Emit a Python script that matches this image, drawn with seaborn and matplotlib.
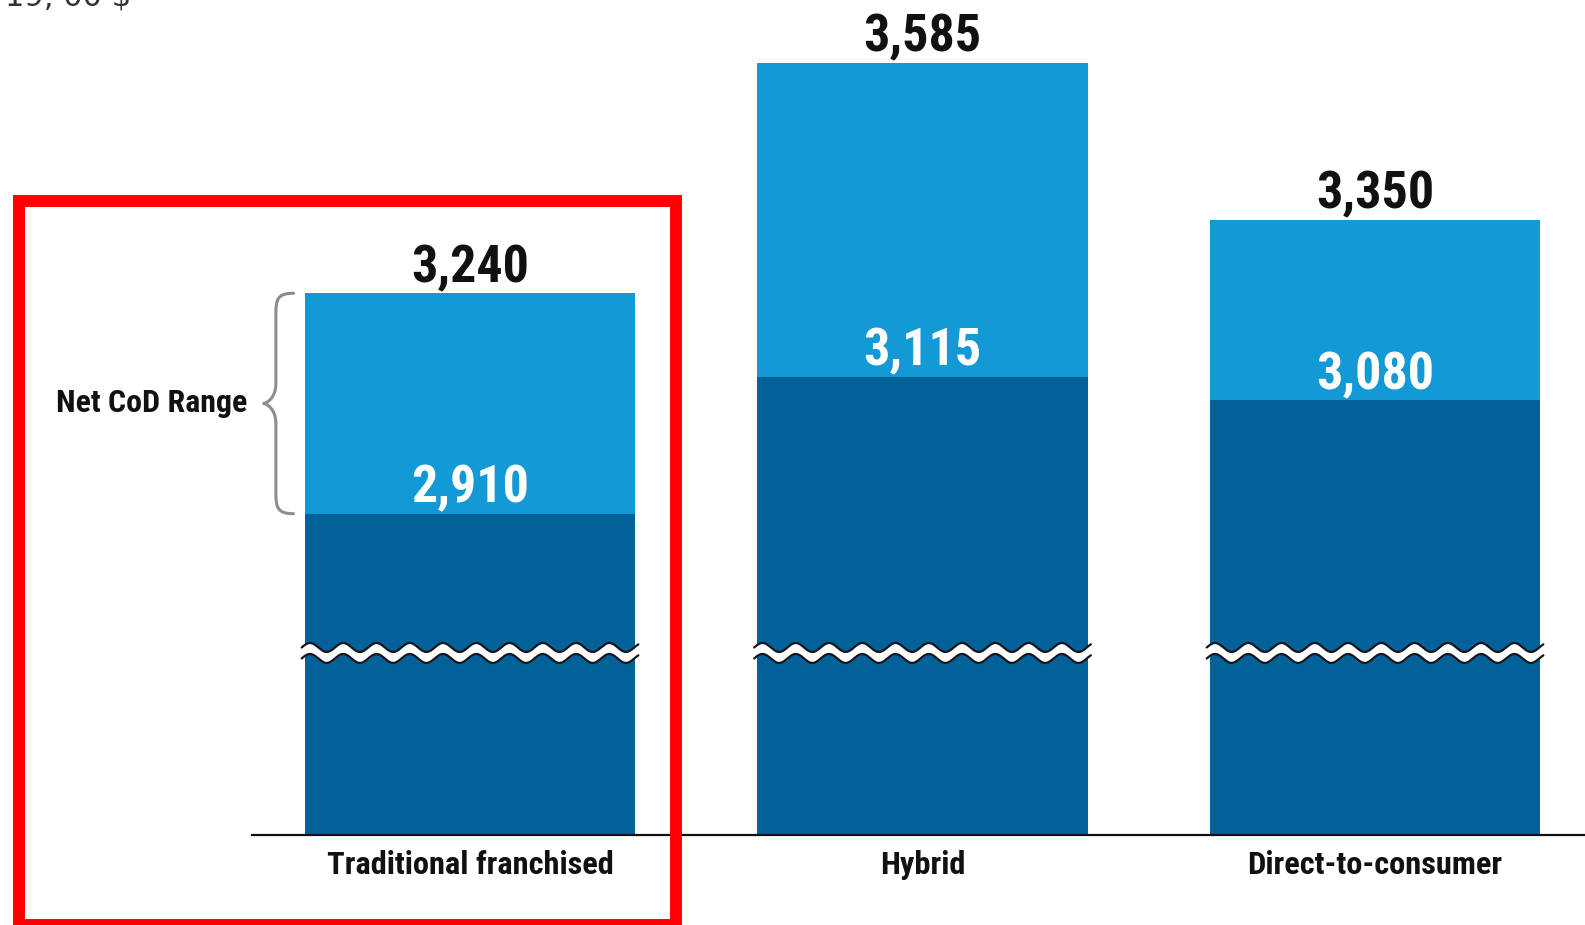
import numpy as np
import pandas as pd
import matplotlib
matplotlib.use("Agg")
import matplotlib.pyplot as plt
import seaborn as sns
from matplotlib import font_manager as fm
from matplotlib.path import Path
from matplotlib.patches import PathPatch, Rectangle
from matplotlib.transforms import blended_transform_factory
from matplotlib.textpath import TextPath
from matplotlib.font_manager import FontProperties

# ---- data -------------------------------------------------------------
categories = ["Traditional franchised", "Hybrid", "Direct-to-consumer"]
net_cod_high = [3240, 3585, 3350]   # top of the Net CoD range
net_cod_low = [2910, 3115, 3080]    # bottom of the Net CoD range
range_label = "Net CoD Range"
corner_note = "19, 00 $"

LIGHT = "#1399D6"
DARK = "#03619A"

# ---- fonts: prefer a narrow bold face ---------------------------------
sns.set_theme(style="white")
plt.rcParams["font.family"] = ["DejaVu Sans"]

entries = fm.fontManager.ttflist
names = {f.name for f in entries}
cond = None
for nm in ["Noto Sans ExtraCondensed", "Noto Sans Condensed", "Roboto Condensed",
           "Open Sans Condensed", "Liberation Sans Narrow", "Noto Sans SemiCondensed"]:
    if nm in names:
        cond = dict(family=[nm, "DejaVu Sans"], weight="bold")
        break
if cond is None:
    narrow = [f for f in entries
              if f.stretch in ("extra-condensed", "condensed", "semi-condensed")
              and f.name in ("Noto Sans", "Open Sans", "Roboto", "Inter", "Lato")]
    if narrow:
        cond = dict(family=[narrow[0].name, "DejaVu Sans"], weight="bold",
                    stretch=narrow[0].stretch)
    else:
        cond = dict(family=["DejaVu Sans"], weight="bold", stretch="condensed")


def fit_size(text, width_px, dpi=100):
    """Font size (pt) at which `text` spans about width_px pixels."""
    fp = FontProperties(**cond)
    fp.set_size(100)
    ext = TextPath((0, 0), text, prop=fp).get_extents()
    w_px_at_100 = ext.width * dpi / 72.0
    return 100 * width_px / w_px_at_100


num_size = fit_size("3,240", 114)
cat_size = fit_size("Traditional franchised", 284)
rng_size = fit_size(range_label, 188)

# ---- figure / axes ----------------------------------------------------
W, H = 1585, 925
fig = plt.figure(figsize=(W / 100, H / 100), dpi=100)
fig.patch.set_facecolor("white")
ax = fig.add_axes([252 / W, (H - 835) / H, 1 - 252 / W, 835 / H])

df = pd.DataFrame({"category": categories, "high": net_cod_high, "low": net_cod_low})

sns.barplot(data=df, x="category", y="high", color=LIGHT, saturation=1,
            width=0.73, linewidth=0, ax=ax, order=categories)
sns.barplot(data=df, x="category", y="low", color=DARK, saturation=1,
            width=0.73, linewidth=0, ax=ax, order=categories)

ax.set_xlim(-0.4818, 2.464)
ax.set_ylim(2429, 3679)
ax.set_xlabel("")
ax.set_ylabel("")
ax.set_yticks([])
for s in ["left", "right", "top"]:
    ax.spines[s].set_visible(False)
ax.spines["bottom"].set_color("#111111")
ax.spines["bottom"].set_linewidth(1.6)
ax.tick_params(axis="x", length=0, pad=11)
ax.set_xticks(range(len(categories)))
ax.set_xticklabels(categories, fontsize=cat_size, color="#111111", **cond)

# ---- value labels -----------------------------------------------------
for i, (hi, lo) in enumerate(zip(net_cod_high, net_cod_low)):
    ax.annotate(f"{hi:,}", (i, hi), xytext=(0, 8), textcoords="offset points",
                ha="center", va="baseline", fontsize=num_size, color="#111111", **cond)
    ax.annotate(f"{lo:,}", (i, lo), xytext=(0, 8), textcoords="offset points",
                ha="center", va="baseline", fontsize=num_size, color="white", **cond)

# ---- axis-break waves across each bar ---------------------------------
trans = blended_transform_factory(ax.transData, ax.transAxes)
px_y = 1 / 835.0
yc = 0.218
amp = 4.5 * px_y
gap = 5.5 * px_y
for i in range(len(categories)):
    half = 0.73 / 2 + 0.007
    xs = np.linspace(i - half, i + half, 400)
    wave = amp * np.sin(2 * np.pi * (xs - (i - half)) / 0.0735)
    top = yc + gap + wave
    bot = yc - gap + wave
    ax.fill_between(xs, bot, top, transform=trans, color="white", lw=0, zorder=5)
    ax.plot(xs, top, transform=trans, color="#14161c", lw=1.6, zorder=6)
    ax.plot(xs, bot, transform=trans, color="#14161c", lw=1.6, zorder=6)

# ---- brace marking the Net CoD range on the first bar -----------------
hi0, lo0 = net_cod_high[0], net_cod_low[0]
edge = -0.365
x_end, x_shaft, x_tip = edge - 0.025, edge - 0.064, edge - 0.093
ym = (hi0 + lo0) / 2
r = 30
verts = [
    (x_end, hi0),
    (x_shaft + 0.004, hi0), (x_shaft, hi0 - r * 0.3), (x_shaft, hi0 - r),
    (x_shaft, ym + r),
    (x_shaft, ym + r * 0.3), (x_tip + 0.01, ym), (x_tip, ym),
    (x_tip + 0.01, ym), (x_shaft, ym - r * 0.3), (x_shaft, ym - r),
    (x_shaft, lo0 + r),
    (x_shaft, lo0 + r * 0.3), (x_shaft + 0.004, lo0), (x_end, lo0),
]
codes = [Path.MOVETO,
         Path.CURVE4, Path.CURVE4, Path.CURVE4,
         Path.LINETO,
         Path.CURVE4, Path.CURVE4, Path.CURVE4,
         Path.CURVE4, Path.CURVE4, Path.CURVE4,
         Path.LINETO,
         Path.CURVE4, Path.CURVE4, Path.CURVE4]
ax.add_patch(PathPatch(Path(verts, codes), fill=False, edgecolor="#8a8d91",
                       lw=2.2, clip_on=False, capstyle="round"))
ax.annotate(range_label, (x_tip, ym), xytext=(-11, 0), textcoords="offset points",
            ha="right", va="center", fontsize=rng_size, color="#111111",
            annotation_clip=False, **cond)

# ---- corner note and highlight frame ----------------------------------
fig.text(131 / W, 1 - 5 / H, corner_note, ha="right", va="baseline",
         fontsize=22, color="#333333", family="DejaVu Sans")
fig.add_artist(Rectangle((19 / W, 0), (676 - 19) / W, (H - 201) / H,
                         transform=fig.transFigure, fill=False,
                         edgecolor="#FF0000", lw=8.6, zorder=20,
                         joinstyle="miter", clip_on=False))

fig.savefig("out.png", dpi=100, facecolor="white")
